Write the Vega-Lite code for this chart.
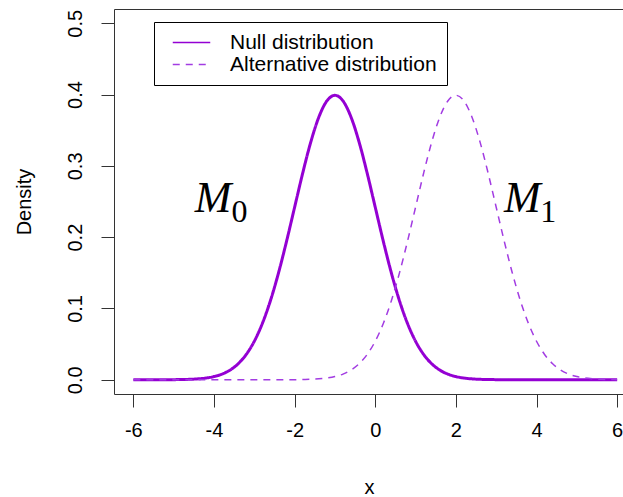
{
  "$schema": "https://vega.github.io/schema/vega-lite/v6.json",
  "autosize": "none",
  "width": 510,
  "height": 385,
  "padding": {"top": 9, "left": 114, "right": 0, "bottom": 103},
  "background": "white",
  "config": {
    "view": {"stroke": "#333", "strokeWidth": 1},
    "font": "Liberation Sans",
    "axis": {
      "grid": false,
      "domain": false,
      "tickColor": "#333",
      "tickSize": 13,
      "labelColor": "#000",
      "labelFontSize": 20,
      "titleFontSize": 20,
      "titleFontWeight": "normal",
      "titleColor": "#000"
    },
    "legend": {
      "title": null,
      "orient": "none",
      "legendX": 40,
      "legendY": 13,
      "direction": "vertical",
      "strokeColor": "#000",
      "padding": 10,
      "symbolType": "M-2.5,0H2.5",
      "symbolSize": 225,
      "symbolStrokeWidth": 1.5,
      "symbolOffset": 17,
      "labelOffset": 28,
      "labelFontSize": 21,
      "labelColor": "#000",
      "rowPadding": 0,
      "labelLimit": 400
    }
  },
  "layer": [
    {
      "data": {
        "values": [
          {"x": -6.0, "d": 0.0000015, "dist": "Null distribution"},
          {"x": -5.8, "d": 0.000004, "dist": "Null distribution"},
          {"x": -5.6, "d": 0.0000101, "dist": "Null distribution"},
          {"x": -5.4, "d": 0.0000249, "dist": "Null distribution"},
          {"x": -5.2, "d": 0.0000589, "dist": "Null distribution"},
          {"x": -5.0, "d": 0.000134, "dist": "Null distribution"},
          {"x": -4.8, "d": 0.000292, "dist": "Null distribution"},
          {"x": -4.6, "d": 0.000612, "dist": "Null distribution"},
          {"x": -4.4, "d": 0.001232, "dist": "Null distribution"},
          {"x": -4.2, "d": 0.002384, "dist": "Null distribution"},
          {"x": -4.0, "d": 0.004432, "dist": "Null distribution"},
          {"x": -3.8, "d": 0.007915, "dist": "Null distribution"},
          {"x": -3.6, "d": 0.013583, "dist": "Null distribution"},
          {"x": -3.4, "d": 0.022395, "dist": "Null distribution"},
          {"x": -3.2, "d": 0.035475, "dist": "Null distribution"},
          {"x": -3.0, "d": 0.053991, "dist": "Null distribution"},
          {"x": -2.8, "d": 0.07895, "dist": "Null distribution"},
          {"x": -2.6, "d": 0.110921, "dist": "Null distribution"},
          {"x": -2.4, "d": 0.149727, "dist": "Null distribution"},
          {"x": -2.2, "d": 0.194186, "dist": "Null distribution"},
          {"x": -2.0, "d": 0.241971, "dist": "Null distribution"},
          {"x": -1.8, "d": 0.289692, "dist": "Null distribution"},
          {"x": -1.6, "d": 0.333225, "dist": "Null distribution"},
          {"x": -1.4, "d": 0.36827, "dist": "Null distribution"},
          {"x": -1.2, "d": 0.391043, "dist": "Null distribution"},
          {"x": -1.0, "d": 0.398942, "dist": "Null distribution"},
          {"x": -0.8, "d": 0.391043, "dist": "Null distribution"},
          {"x": -0.6, "d": 0.36827, "dist": "Null distribution"},
          {"x": -0.4, "d": 0.333225, "dist": "Null distribution"},
          {"x": -0.2, "d": 0.289692, "dist": "Null distribution"},
          {"x": 0.0, "d": 0.241971, "dist": "Null distribution"},
          {"x": 0.2, "d": 0.194186, "dist": "Null distribution"},
          {"x": 0.4, "d": 0.149727, "dist": "Null distribution"},
          {"x": 0.6, "d": 0.110921, "dist": "Null distribution"},
          {"x": 0.8, "d": 0.07895, "dist": "Null distribution"},
          {"x": 1.0, "d": 0.053991, "dist": "Null distribution"},
          {"x": 1.2, "d": 0.035475, "dist": "Null distribution"},
          {"x": 1.4, "d": 0.022395, "dist": "Null distribution"},
          {"x": 1.6, "d": 0.013583, "dist": "Null distribution"},
          {"x": 1.8, "d": 0.007915, "dist": "Null distribution"},
          {"x": 2.0, "d": 0.004432, "dist": "Null distribution"},
          {"x": 2.2, "d": 0.002384, "dist": "Null distribution"},
          {"x": 2.4, "d": 0.001232, "dist": "Null distribution"},
          {"x": 2.6, "d": 0.000612, "dist": "Null distribution"},
          {"x": 2.8, "d": 0.000292, "dist": "Null distribution"},
          {"x": 3.0, "d": 0.000134, "dist": "Null distribution"},
          {"x": 3.2, "d": 0.0000589, "dist": "Null distribution"},
          {"x": 3.4, "d": 0.0000249, "dist": "Null distribution"},
          {"x": 3.6, "d": 0.0000101, "dist": "Null distribution"},
          {"x": 3.8, "d": 0.000004, "dist": "Null distribution"},
          {"x": 4.0, "d": 0.0000015, "dist": "Null distribution"},
          {"x": 4.2, "d": 0.0, "dist": "Null distribution"},
          {"x": 4.4, "d": 0.0, "dist": "Null distribution"},
          {"x": 4.6, "d": 0.0, "dist": "Null distribution"},
          {"x": 4.8, "d": 0.0, "dist": "Null distribution"},
          {"x": 5.0, "d": 0.0, "dist": "Null distribution"},
          {"x": 5.2, "d": 0.0, "dist": "Null distribution"},
          {"x": 5.4, "d": 0.0, "dist": "Null distribution"},
          {"x": 5.6, "d": 0.0, "dist": "Null distribution"},
          {"x": 5.8, "d": 0.0, "dist": "Null distribution"},
          {"x": 6.0, "d": 0.0, "dist": "Null distribution"},
          {"x": -6.0, "d": 0.0, "dist": "Alternative distribution"},
          {"x": -5.8, "d": 0.0, "dist": "Alternative distribution"},
          {"x": -5.6, "d": 0.0, "dist": "Alternative distribution"},
          {"x": -5.4, "d": 0.0, "dist": "Alternative distribution"},
          {"x": -5.2, "d": 0.0, "dist": "Alternative distribution"},
          {"x": -5.0, "d": 0.0, "dist": "Alternative distribution"},
          {"x": -4.8, "d": 0.0, "dist": "Alternative distribution"},
          {"x": -4.6, "d": 0.0, "dist": "Alternative distribution"},
          {"x": -4.4, "d": 0.0, "dist": "Alternative distribution"},
          {"x": -4.2, "d": 0.0, "dist": "Alternative distribution"},
          {"x": -4.0, "d": 0.0, "dist": "Alternative distribution"},
          {"x": -3.8, "d": 0.0, "dist": "Alternative distribution"},
          {"x": -3.6, "d": 0.0, "dist": "Alternative distribution"},
          {"x": -3.4, "d": 0.0, "dist": "Alternative distribution"},
          {"x": -3.2, "d": 0.0, "dist": "Alternative distribution"},
          {"x": -3.0, "d": 0.0000015, "dist": "Alternative distribution"},
          {"x": -2.8, "d": 0.000004, "dist": "Alternative distribution"},
          {"x": -2.6, "d": 0.0000101, "dist": "Alternative distribution"},
          {"x": -2.4, "d": 0.0000249, "dist": "Alternative distribution"},
          {"x": -2.2, "d": 0.0000589, "dist": "Alternative distribution"},
          {"x": -2.0, "d": 0.000134, "dist": "Alternative distribution"},
          {"x": -1.8, "d": 0.000292, "dist": "Alternative distribution"},
          {"x": -1.6, "d": 0.000612, "dist": "Alternative distribution"},
          {"x": -1.4, "d": 0.001232, "dist": "Alternative distribution"},
          {"x": -1.2, "d": 0.002384, "dist": "Alternative distribution"},
          {"x": -1.0, "d": 0.004432, "dist": "Alternative distribution"},
          {"x": -0.8, "d": 0.007915, "dist": "Alternative distribution"},
          {"x": -0.6, "d": 0.013583, "dist": "Alternative distribution"},
          {"x": -0.4, "d": 0.022395, "dist": "Alternative distribution"},
          {"x": -0.2, "d": 0.035475, "dist": "Alternative distribution"},
          {"x": 0.0, "d": 0.053991, "dist": "Alternative distribution"},
          {"x": 0.2, "d": 0.07895, "dist": "Alternative distribution"},
          {"x": 0.4, "d": 0.110921, "dist": "Alternative distribution"},
          {"x": 0.6, "d": 0.149727, "dist": "Alternative distribution"},
          {"x": 0.8, "d": 0.194186, "dist": "Alternative distribution"},
          {"x": 1.0, "d": 0.241971, "dist": "Alternative distribution"},
          {"x": 1.2, "d": 0.289692, "dist": "Alternative distribution"},
          {"x": 1.4, "d": 0.333225, "dist": "Alternative distribution"},
          {"x": 1.6, "d": 0.36827, "dist": "Alternative distribution"},
          {"x": 1.8, "d": 0.391043, "dist": "Alternative distribution"},
          {"x": 2.0, "d": 0.398942, "dist": "Alternative distribution"},
          {"x": 2.2, "d": 0.391043, "dist": "Alternative distribution"},
          {"x": 2.4, "d": 0.36827, "dist": "Alternative distribution"},
          {"x": 2.6, "d": 0.333225, "dist": "Alternative distribution"},
          {"x": 2.8, "d": 0.289692, "dist": "Alternative distribution"},
          {"x": 3.0, "d": 0.241971, "dist": "Alternative distribution"},
          {"x": 3.2, "d": 0.194186, "dist": "Alternative distribution"},
          {"x": 3.4, "d": 0.149727, "dist": "Alternative distribution"},
          {"x": 3.6, "d": 0.110921, "dist": "Alternative distribution"},
          {"x": 3.8, "d": 0.07895, "dist": "Alternative distribution"},
          {"x": 4.0, "d": 0.053991, "dist": "Alternative distribution"},
          {"x": 4.2, "d": 0.035475, "dist": "Alternative distribution"},
          {"x": 4.4, "d": 0.022395, "dist": "Alternative distribution"},
          {"x": 4.6, "d": 0.013583, "dist": "Alternative distribution"},
          {"x": 4.8, "d": 0.007915, "dist": "Alternative distribution"},
          {"x": 5.0, "d": 0.004432, "dist": "Alternative distribution"},
          {"x": 5.2, "d": 0.002384, "dist": "Alternative distribution"},
          {"x": 5.4, "d": 0.001232, "dist": "Alternative distribution"},
          {"x": 5.6, "d": 0.000612, "dist": "Alternative distribution"},
          {"x": 5.8, "d": 0.000292, "dist": "Alternative distribution"},
          {"x": 6.0, "d": 0.000134, "dist": "Alternative distribution"}
        ]
      },
      "mark": {"type": "line", "interpolate": "monotone"},
      "encoding": {
        "x": {
          "field": "x",
          "type": "quantitative",
          "scale": {"domain": [-6.48, 6.17], "nice": false, "zero": false},
          "axis": {
            "values": [-6, -4, -2, 0, 2, 4, 6],
            "labelExpr": "'' + datum.value",
            "labelPadding": 13,
            "title": "x",
            "titlePadding": 37
          }
        },
        "y": {
          "field": "d",
          "type": "quantitative",
          "scale": {"domain": [-0.02, 0.52], "nice": false, "zero": false},
          "axis": {
            "values": [0, 0.1, 0.2, 0.3, 0.4, 0.5],
            "format": ".1f",
            "labelAngle": -90,
            "labelAlign": "center",
            "labelBaseline": "bottom",
            "labelPadding": 16,
            "title": "Density",
            "titlePadding": 31
          }
        },
        "color": {
          "field": "dist",
          "type": "nominal",
          "scale": {
            "domain": ["Null distribution", "Alternative distribution"],
            "range": ["#9400D3", "#A23CE2"]
          }
        },
        "strokeDash": {
          "field": "dist",
          "type": "nominal",
          "scale": {
            "domain": ["Null distribution", "Alternative distribution"],
            "range": [[1, 0], [7, 6]]
          }
        },
        "strokeWidth": {
          "condition": {"test": "datum.dist === 'Null distribution'", "value": 3},
          "value": 1.5
        }
      }
    },
    {
      "data": {
        "values": [
          {"x": -4.02, "y": 0.235, "t": "M"},
          {"x": 3.65, "y": 0.235, "t": "M"}
        ]
      },
      "mark": {"type": "text", "font": "Liberation Serif", "fontStyle": "italic", "fontSize": 44, "align": "center", "baseline": "alphabetic", "color": "#000"},
      "encoding": {
        "x": {"field": "x", "type": "quantitative"},
        "y": {"field": "y", "type": "quantitative"},
        "text": {"field": "t"}
      }
    },
    {
      "data": {
        "values": [
          {"x": -3.37, "y": 0.221, "t": "0"},
          {"x": 4.29, "y": 0.221, "t": "1"}
        ]
      },
      "mark": {"type": "text", "font": "Liberation Serif", "fontSize": 32, "align": "center", "baseline": "alphabetic", "color": "#000"},
      "encoding": {
        "x": {"field": "x", "type": "quantitative"},
        "y": {"field": "y", "type": "quantitative"},
        "text": {"field": "t"}
      }
    }
  ]
}
